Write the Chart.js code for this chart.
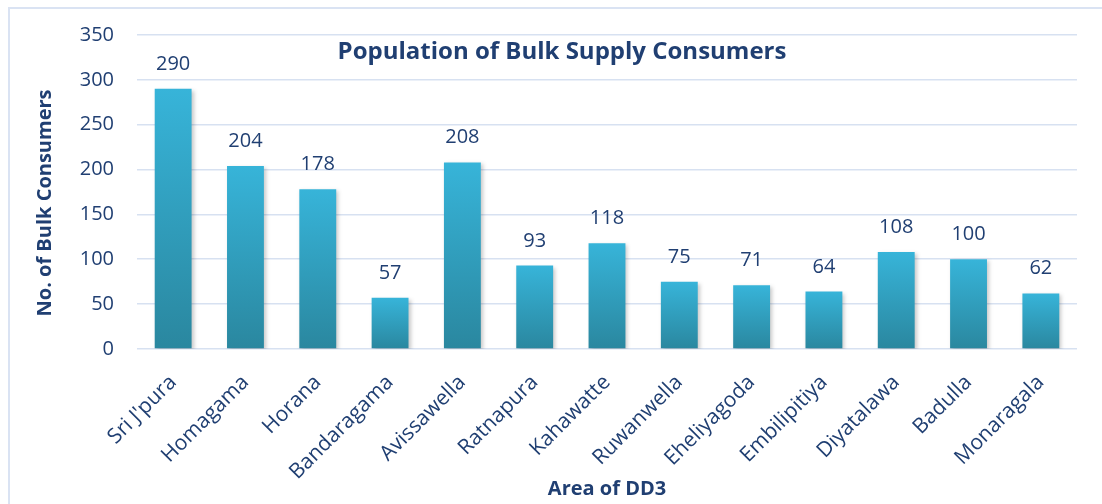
<!DOCTYPE html>
<html>
<head>
<meta charset="utf-8">
<script src="https://cdn.jsdelivr.net/npm/chart.js@4/dist/chart.umd.min.js"></script>
<style>
  html, body { margin: 0; padding: 0; background: #fff; }
  #wrap { position: relative; width: 1102px; height: 504px; overflow: hidden; }
  #frame { position: absolute; left: 8px; top: 7px; width: 1200px; height: 600px;
           border-top: 2px solid #dae3f3; border-left: 2px solid #dae3f3; }
  canvas { position: absolute; left: 0; top: 0; }
</style>
</head>
<body>
<div id="wrap">
  <div id="frame"></div>
  <canvas id="myChart" width="1102" height="504"></canvas>
</div>
<script>
'use strict';

// values
const areas = ["Sri J'pura", 'Homagama', 'Horana', 'Bandaragama', 'Avissawella', 'Ratnapura',
   'Kahawatte', 'Ruwanwella', 'Eheliyagoda', 'Embilipitiya', 'Diyatalawa', 'Badulla', 'Monaragala'];
const consumers = [290, 204, 178, 57, 208, 93, 118, 75, 71, 64, 108, 100, 62];
const yTicks = [0, 50, 100, 150, 200, 250, 300, 350];

const chartTitle = 'Population of Bulk Supply Consumers';
const xTitle = 'Area of DD3';
const yTitle = 'No. of Bulk Consumers';

const textColor = '#203f72';
const gridColor = '#d7e1f1';
const barTop = '#37b4d9';
const barBottom = '#2a879f';
const font = "'Open Sans', sans-serif";

// per-bar vertical gradient, light on top, dark at the base
function barGradient(context) {
   const chart = context.chart;
   if (!chart.chartArea || !chart.scales.y) return barTop;
   const top = chart.scales.y.getPixelForValue(context.raw);
   const base = chart.scales.y.getPixelForValue(0);
   const g = chart.ctx.createLinearGradient(0, top, 0, base);
   g.addColorStop(0, barTop);
   g.addColorStop(1, barBottom);
   return g;
}

// soft drop shadow under the bars
const barShadow = {
   id: 'barShadow',
   beforeDatasetsDraw(chart) {
      const ctx = chart.ctx;
      ctx.save();
      ctx.shadowColor = 'rgba(0,0,0,0.22)';
      ctx.shadowBlur = 4;
      ctx.shadowOffsetX = 2;
      ctx.shadowOffsetY = 2;
   },
   afterDatasetsDraw(chart) {
      chart.ctx.restore();
   }
};

// value labels, chart title and axis titles
const textLayer = {
   id: 'textLayer',
   afterDraw(chart) {
      const ctx = chart.ctx;
      const area = chart.chartArea;
      const meta = chart.getDatasetMeta(0);
      ctx.save();
      ctx.fillStyle = textColor;
      ctx.textAlign = 'center';
      ctx.textBaseline = 'alphabetic';
      ctx.font = '20px ' + font;
      meta.data.forEach(function (bar, i) {
         ctx.fillText(String(consumers[i]), bar.x, bar.y - 19);
      });

      ctx.font = 'bold 24px ' + font;
      ctx.textBaseline = 'middle';
      ctx.fillText(chartTitle, 562, 52);

      ctx.font = 'bold 20px ' + font;
      ctx.fillText(xTitle, (area.left + area.right) / 2, 489);

      ctx.translate(45, 203);
      ctx.rotate(-Math.PI / 2);
      ctx.fillText(yTitle, 0, 0);
      ctx.restore();
   }
};

const ctx = document.getElementById('myChart');
const myChart = new Chart(ctx, {
   type: 'bar',
   data: {
      labels: areas,
      datasets: [{
         label: yTitle,
         data: consumers,
         backgroundColor: barGradient,
         borderWidth: 0,
         categoryPercentage: 1.0,
         barPercentage: 0.51
      }]
   },
   options: {
      responsive: false,
      animation: false,
      layout: { padding: { top: 33, right: 25, left: 0, bottom: 0 } },
      plugins: {
         legend: { display: false },
         tooltip: { enabled: false }
      },
      scales: {
         x: {
            grid: { display: false, drawTicks: false },
            border: { display: false },
            ticks: {
               color: textColor,
               font: { family: font, size: 21 },
               minRotation: 45,
               maxRotation: 45,
               padding: 21,
               autoSkip: false
            },
            afterFit(scale) { scale.height = 155; }
         },
         y: {
            min: 0,
            max: 350,
            afterBuildTicks(scale) { scale.ticks = yTicks.map(v => ({ value: v })); },
            grid: { color: gridColor, lineWidth: 1.6, drawTicks: false },
            border: { display: false },
            ticks: {
               color: textColor,
               font: { family: font, size: 20 },
               padding: 23
            },
            afterFit(scale) { scale.width = 137; }
         }
      }
   },
   plugins: [barShadow, textLayer]
});
</script>
</body>
</html>
